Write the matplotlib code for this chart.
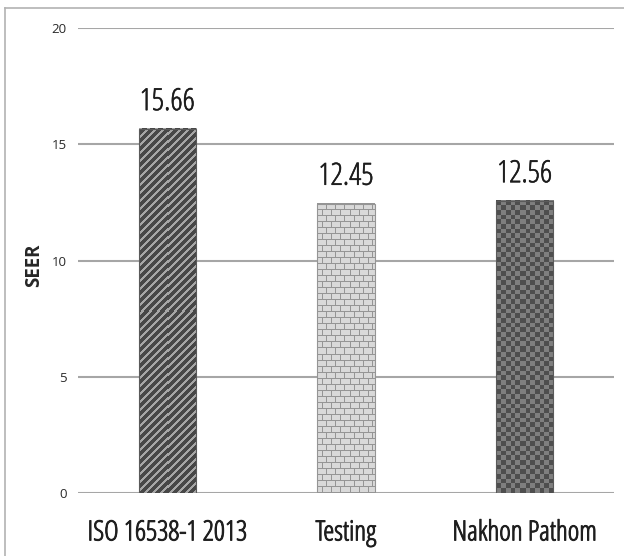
import numpy as np
import matplotlib
matplotlib.use("Agg")
import matplotlib.pyplot as plt
import matplotlib.patheffects as pe
from matplotlib.lines import Line2D
from matplotlib.colors import to_rgb
from matplotlib.font_manager import FontProperties

# Data
categories = ["ISO 16538-1 2013", "Testing", "Nakhon Pathom"]
seer_values = [15.66, 12.45, 12.56]
value_labels = ["15.66", "12.45", "12.56"]
y_ticks = [0, 5, 10, 15, 20]
y_label = "SEER"

W, H, DPI = 624, 556, 100
PLAIN = ["Open Sans", "DejaVu Sans"]

fig = plt.figure(figsize=(W / DPI, H / DPI), dpi=DPI)
fig.patch.set_facecolor("white")
ax = fig.add_axes([78 / W, 63 / H, 536 / W, 465 / H])

x = np.arange(len(categories))
ax.set_xlim(-0.5, len(categories) - 0.5)
ax.set_ylim(0, 20)

# Horizontal gridlines
ax.set_yticks(y_ticks)
ax.yaxis.grid(True, color="#a6a6a6", linewidth=1.5)
ax.set_axisbelow(True)
for s in ax.spines.values():
    s.set_visible(False)
ax.tick_params(axis="y", length=0, pad=8, labelsize=9.5, labelcolor="#2a2a2a")
for lab in ax.get_yticklabels():
    lab.set_family(PLAIN)

cat_color = "#1e1e1e"
cat_font = FontProperties(family="Open Sans", stretch="condensed", weight=300, size=20)
ax.set_xticks(x)
ax.set_xticklabels(categories, fontproperties=cat_font, color=cat_color)
for lab in ax.get_xticklabels():
    lab.set_path_effects([pe.withStroke(linewidth=0.7, foreground=cat_color)])
ax.tick_params(axis="x", length=0, pad=19)

ax.set_ylabel(y_label, family=PLAIN, fontsize=13.5, fontweight="bold", color="#262626")
ax.yaxis.set_label_coords(-0.064, 0.49)

bars = ax.bar(x, seer_values, width=0.32, color="none", edgecolor="none", zorder=2)


def stripes(h, w):
    r, c = np.mgrid[0:h, 0:w]
    light = ((c + r) % 8) < 3
    img = np.empty((h, w, 3))
    img[:] = to_rgb("#474747")
    img[light] = to_rgb("#a6a6a6")
    return img


def bricks(h, w):
    r, c = np.mgrid[0:h, 0:w]
    row = r // 6
    shift = np.where(row % 2 == 0, 0, 4)
    mortar = ((r % 6) == 0) | (((c + shift) % 9) == 0)
    img = np.empty((h, w, 3))
    img[:] = to_rgb("#d9d9d9")
    img[mortar] = to_rgb("#959595")
    return img


def checks(h, w):
    r, c = np.mgrid[0:h, 0:w]
    cell = 4.7
    odd = ((np.floor(r / cell) + np.floor(c / cell)) % 2) == 1
    img = np.empty((h, w, 3))
    img[:] = to_rgb("#4e4e4e")
    img[odd] = to_rgb("#7f7f7f")
    return img


patterns = [stripes, bricks, checks]
edges = ["#5a5a5a", "#959595", "#5a5a5a"]

for bar, make, ec in zip(bars, patterns, edges):
    x0, y0 = bar.get_x(), bar.get_y()
    x1, y1 = x0 + bar.get_width(), y0 + bar.get_height()
    (px0, py0), (px1, py1) = ax.transData.transform([(x0, y0), (x1, y1)])
    w = max(int(round(px1 - px0)), 1)
    h = max(int(round(py1 - py0)), 1)
    ax.imshow(make(h, w), extent=(x0, x1, y0, y1), aspect="auto",
              interpolation="nearest", zorder=3, origin="upper")
    ax.add_patch(plt.Rectangle((x0, y0), x1 - x0, y1 - y0, fill=False,
                               edgecolor=ec, linewidth=0.8, zorder=4))

ax.set_xlim(-0.5, len(categories) - 0.5)
ax.set_ylim(0, 20)

val_color = "#1c1c1c"
val_font = FontProperties(family="Open Sans", stretch="condensed", weight=300, size=22)
for xi, v, lab in zip(x, seer_values, value_labels):
    t = ax.annotate(lab, (xi, v), xytext=(0, 13.5), textcoords="offset points",
                    ha="center", va="baseline", fontproperties=val_font,
                    color=val_color)
    t.set_path_effects([pe.withStroke(linewidth=0.4, foreground=val_color)])

# Chart-area border (top and left edges)
border = dict(color="#b3b3b3", linewidth=1.2, transform=fig.transFigure)
fig.add_artist(Line2D([5 / W, 5 / W], [0, 1 - 7.5 / H], **border))
fig.add_artist(Line2D([5 / W, 1], [1 - 7.5 / H, 1 - 7.5 / H], **border))

fig.savefig("out.png", dpi=DPI)
